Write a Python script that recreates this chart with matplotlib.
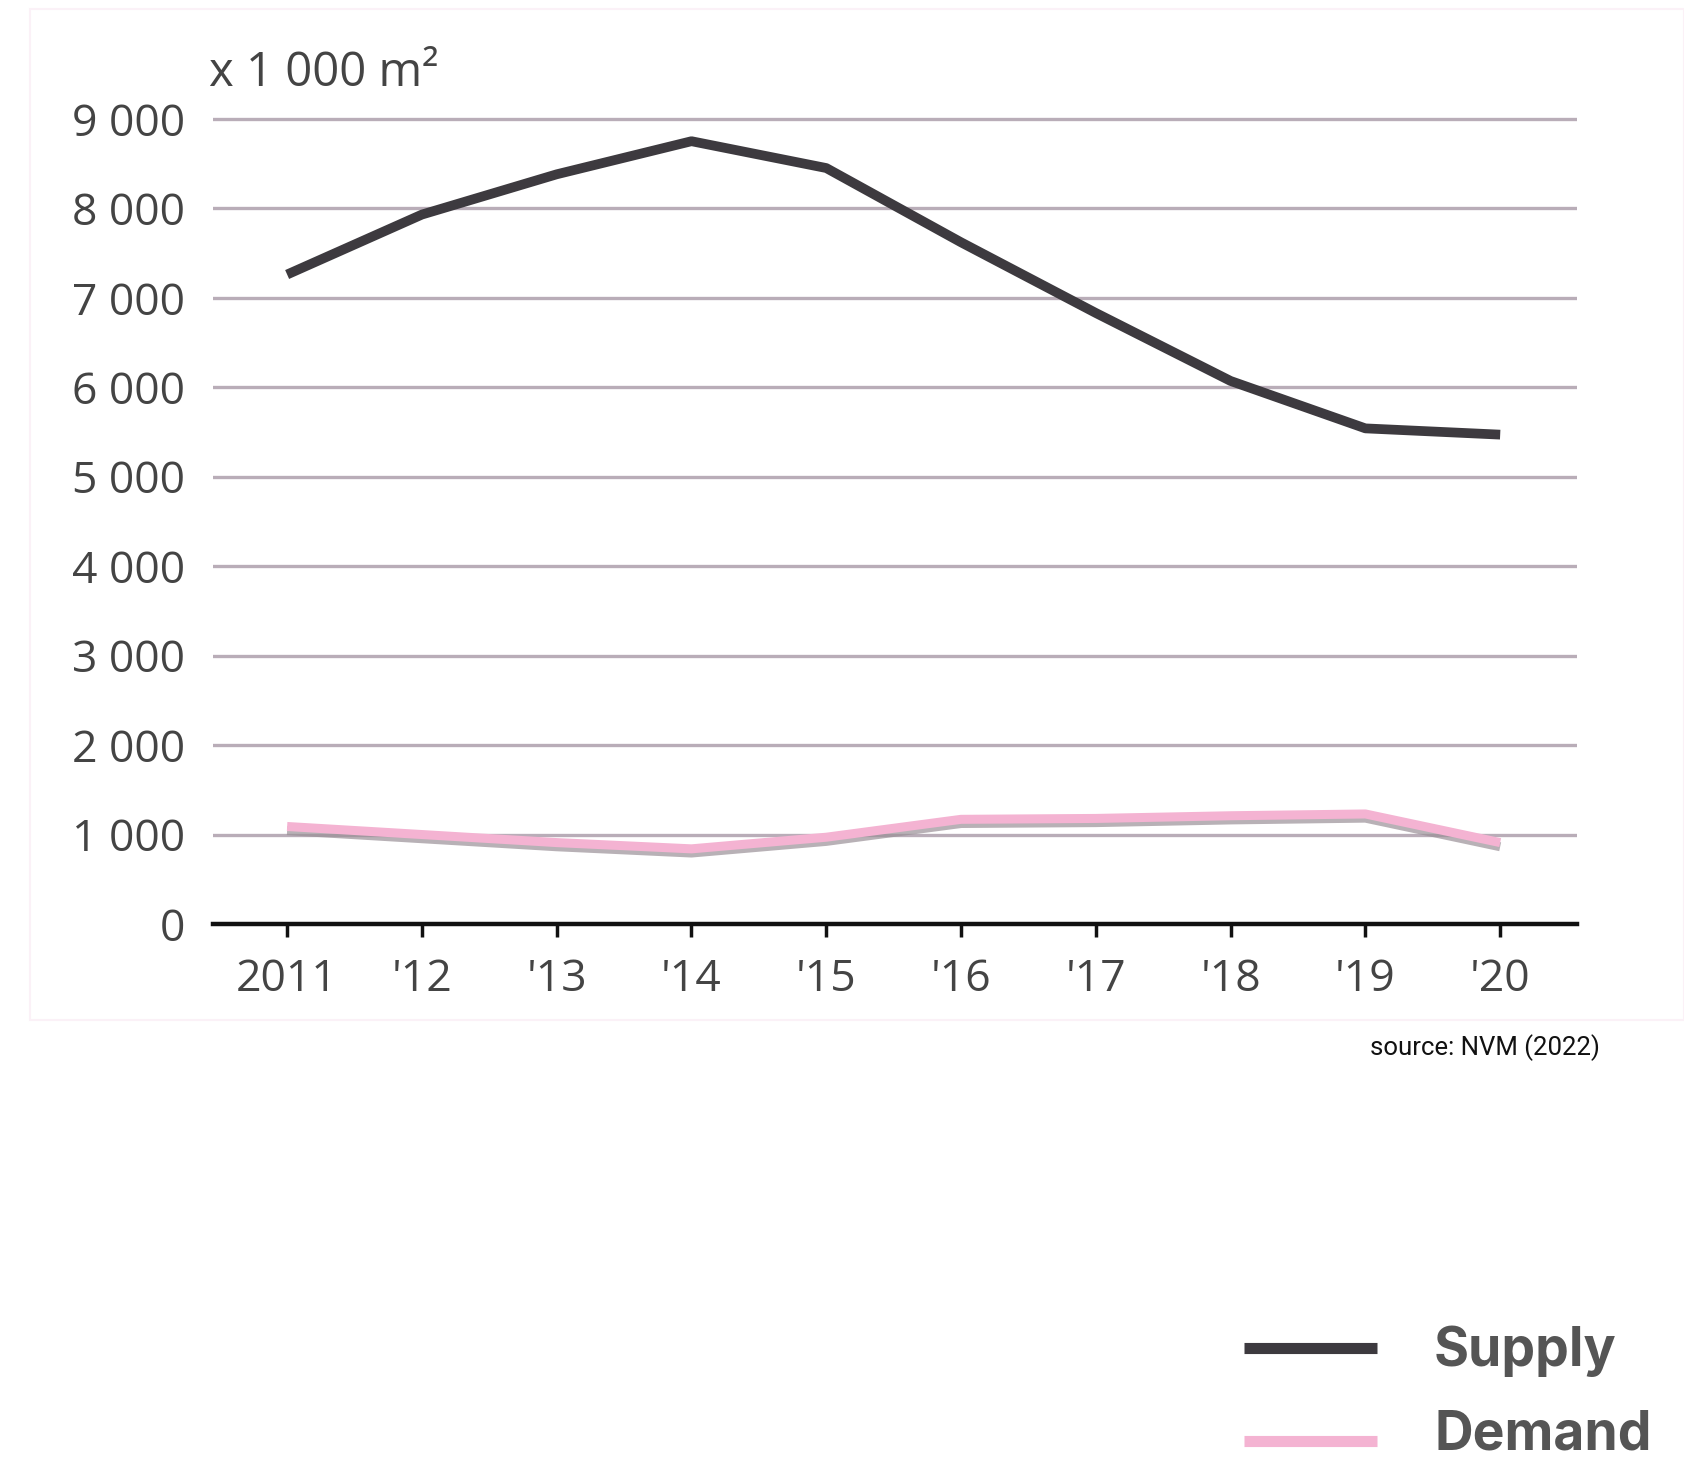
import matplotlib
matplotlib.use('Agg')
import matplotlib.pyplot as plt
import matplotlib.patheffects as pe
from matplotlib.patches import Rectangle

years = [2011, 2012, 2013, 2014, 2015, 2016, 2017, 2018, 2019, 2020]
year_labels = ['2011', "'12", "'13", "'14", "'15", "'16", "'17", "'18", "'19", "'20"]
supply = [7260, 7930, 8380, 8750, 8450, 7620, 6830, 6070, 5540, 5470]
demand = [1090, 1000, 910, 840, 970, 1170, 1180, 1210, 1230, 910]
y_ticks = [0, 1000, 2000, 3000, 4000, 5000, 6000, 7000, 8000, 9000]
y_labels = ['0', '1 000', '2 000', '3 000', '4 000', '5 000', '6 000', '7 000', '8 000', '9 000']

W, H = 1684, 1458
fig = plt.figure(figsize=(W / 100, H / 100), dpi=100)

# faint frame around the chart image
fig.patches.append(Rectangle((30 / W, 1 - 1020 / H), (W - 30) / W, (1020 - 9) / H,
                             transform=fig.transFigure, fill=False,
                             edgecolor='#fbf1f7', linewidth=1.5))

ax = fig.add_axes([213 / W, (H - 924) / H, (1577 - 213) / W, 832 / H])
ax.set_xlim(2010.45, 2020.57)
ax.set_ylim(0, 9300)

tick_font = dict(family='Open Sans', size=32, color='#444444')

for t in y_ticks[1:]:
    ax.axhline(t, color='#b9adb8', linewidth=2.4, zorder=1)
ax.axhline(0, color='#111111', linewidth=3.2, zorder=4, clip_on=False)

ax.plot(years, supply, color='#3d3a3f', linewidth=7, zorder=3, solid_capstyle='butt')
ax.plot(years, demand, color='#f4b3d2', linewidth=6.5, zorder=3, solid_capstyle='butt',
        path_effects=[pe.SimpleLineShadow(offset=(0, -3), shadow_color='#9a9097', alpha=0.7),
                      pe.Normal()])

for s in ax.spines.values():
    s.set_visible(False)
ax.set_xticks(years)
ax.set_xticklabels(year_labels, fontdict=tick_font)
ax.set_yticks(y_ticks)
ax.set_yticklabels(y_labels, fontdict=tick_font)
ax.tick_params(axis='x', length=9, width=2.5, color='#111111', pad=15)
ax.tick_params(axis='y', length=0, pad=20)

fig.text(209 / W, 1 - 86 / H, 'x 1 000 m²', ha='left', va='baseline',
         family='Open Sans', size=34, color='#444444')

fig.text(1600 / W, 1 - 1055 / H, 'source: NVM (2022)', ha='right', va='baseline',
         family='Roboto', size=18.5, color='#111111')

# legend drawn by hand at the lower right
legend_items = [('Supply', '#3d3a3f', 1348, 1366), ('Demand', '#f4b3d2', 1441, 1450)]
for name, col, ypix, text_y in legend_items:
    fig.add_artist(plt.Line2D([1244 / W, 1377 / W], [1 - ypix / H, 1 - ypix / H],
                              transform=fig.transFigure, color=col, linewidth=8,
                              solid_capstyle='butt'))
    fig.text(1434 / W, 1 - text_y / H, name, ha='left', va='baseline',
             family='Inter', weight='bold', size=38.5, color='#555555')

fig.savefig('out.png', dpi=100, facecolor='white')
